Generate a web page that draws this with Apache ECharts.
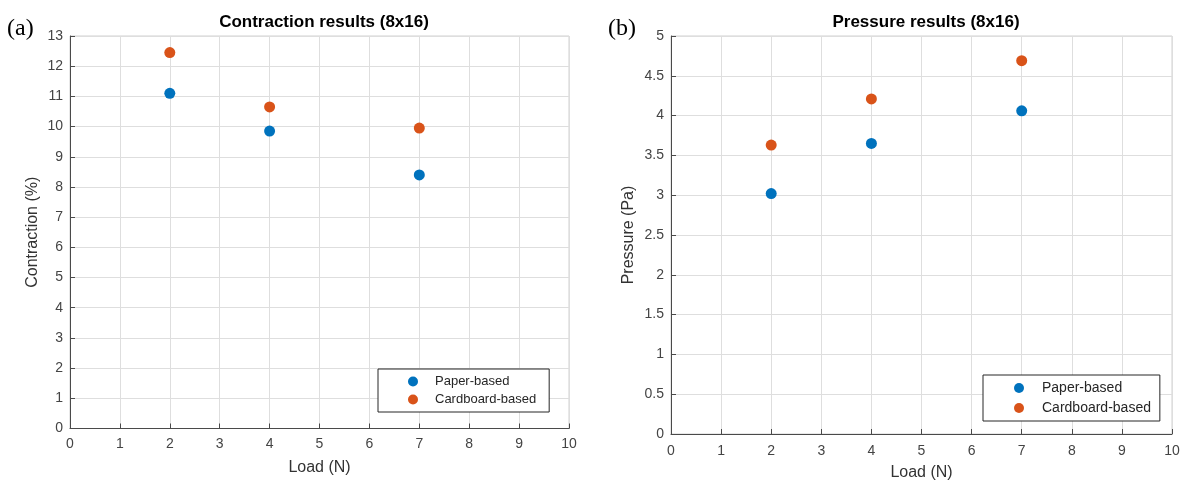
<!DOCTYPE html>
<html><head><meta charset="utf-8">
<script src="https://cdn.jsdelivr.net/npm/echarts@6/dist/echarts.min.js"></script>
<style>html,body{margin:0;padding:0;background:#fff}#c{width:1187px;height:484px}</style>
</head><body><div id="c"></div>
<script>
const loads = [2, 4, 7];
const contractionPaper = [11.1, 9.85, 8.4];
const contractionCardboard = [12.45, 10.65, 9.95];
const pressurePaper = [3.02, 3.65, 4.06];
const pressureCardboard = [3.63, 4.21, 4.69];
const seriesNames = ['Paper-based', 'Cardboard-based'];
const titles = ['Contraction results (8x16)', 'Pressure results (8x16)'];
const yNames = ['Contraction (%)', 'Pressure (Pa)'];
const xName = 'Load (N)';
const panelLabels = ['(a)', '(b)'];

const blue = '#0072BD', orange = '#D95319';
const font = 'Liberation Sans, Arial, sans-serif';
const pts = (ys) => loads.map((x, i) => [x, ys[i]]);

function axisCommon(labelMargin) {
  return {
    axisLine: {show: true, lineStyle: {color: '#4a4a4a', width: 1}},
    axisTick: {show: true, inside: true, length: 5, lineStyle: {color: '#4a4a4a'}},
    splitLine: {show: true, lineStyle: {color: '#dedede', width: 1}},
    axisLabel: {color: '#444', fontFamily: font, fontSize: 14, margin: labelMargin},
    nameTextStyle: {color: '#333', fontFamily: font, fontSize: 16},
    nameLocation: 'middle'
  };
}

const chart = echarts.init(document.getElementById('c'));
chart.setOption({
  backgroundColor: '#fff',
  animation: false,
  title: [
    {text: titles[0], left: 319, top: 9, textAlign: 'center', textStyle: {fontFamily: font, fontSize: 17, fontWeight: 'bold', color: '#000'}},
    {text: titles[1], left: 921, top: 9, textAlign: 'center', textStyle: {fontFamily: font, fontSize: 17, fontWeight: 'bold', color: '#000'}}
  ],
  graphic: [
    {type: 'text', left: 7, top: 17, style: {text: panelLabels[0], font: '24px "Liberation Serif", "DejaVu Serif", serif', fill: '#000'}},
    {type: 'text', left: 608, top: 17, style: {text: panelLabels[1], font: '24px "Liberation Serif", "DejaVu Serif", serif', fill: '#000'}}
  ],
  grid: [
    {left: 70, right: 618, top: 36, bottom: 55.5, outerBoundsMode: 'none', containLabel: false, show: true, borderColor: '#d0d0d0', borderWidth: 1},
    {left: 671, right: 15, top: 36, bottom: 50, outerBoundsMode: 'none', containLabel: false, show: true, borderColor: '#d0d0d0', borderWidth: 1}
  ],
  legend: [
    {data: seriesNames, orient: 'vertical', left: 378, top: 369, itemWidth: 34, itemHeight: 10, itemGap: 5,
     padding: [6, 13, 6, 30], borderColor: '#262626', borderWidth: 1, backgroundColor: '#fff', icon: 'circle',
     textStyle: {fontFamily: font, fontSize: 13, color: '#262626'}},
    {data: seriesNames.map(n => ({name: n + ' '})), orient: 'vertical', left: 983, top: 375, itemWidth: 36, itemHeight: 10, itemGap: 6,
     padding: [6, 5, 6, 31], borderColor: '#262626', borderWidth: 1, backgroundColor: '#fff', icon: 'circle',
     textStyle: {fontFamily: font, fontSize: 14, color: '#262626'}}
  ],
  xAxis: [
    Object.assign(axisCommon(9), {gridIndex: 0, type: 'value', min: 0, max: 10, interval: 1, name: xName, nameGap: 31}),
    Object.assign(axisCommon(10), {gridIndex: 1, type: 'value', min: 0, max: 10, interval: 1, name: xName, nameGap: 31})
  ],
  yAxis: [
    Object.assign(axisCommon(7), {gridIndex: 0, type: 'value', min: 0, max: 13, interval: 1, name: yNames[0], nameGap: 29}),
    Object.assign(axisCommon(7), {gridIndex: 1, type: 'value', min: 0, max: 5, interval: 0.5, name: yNames[1], nameGap: 34})
  ],
  series: [
    {name: seriesNames[0], type: 'scatter', xAxisIndex: 0, yAxisIndex: 0, data: pts(contractionPaper), symbolSize: 11, itemStyle: {color: blue, opacity: 1}},
    {name: seriesNames[1], type: 'scatter', xAxisIndex: 0, yAxisIndex: 0, data: pts(contractionCardboard), symbolSize: 11, itemStyle: {color: orange, opacity: 1}},
    {name: seriesNames[0] + ' ', type: 'scatter', xAxisIndex: 1, yAxisIndex: 1, data: pts(pressurePaper), symbolSize: 11, itemStyle: {color: blue, opacity: 1}},
    {name: seriesNames[1] + ' ', type: 'scatter', xAxisIndex: 1, yAxisIndex: 1, data: pts(pressureCardboard), symbolSize: 11, itemStyle: {color: orange, opacity: 1}}
  ]
});
</script></body></html>
